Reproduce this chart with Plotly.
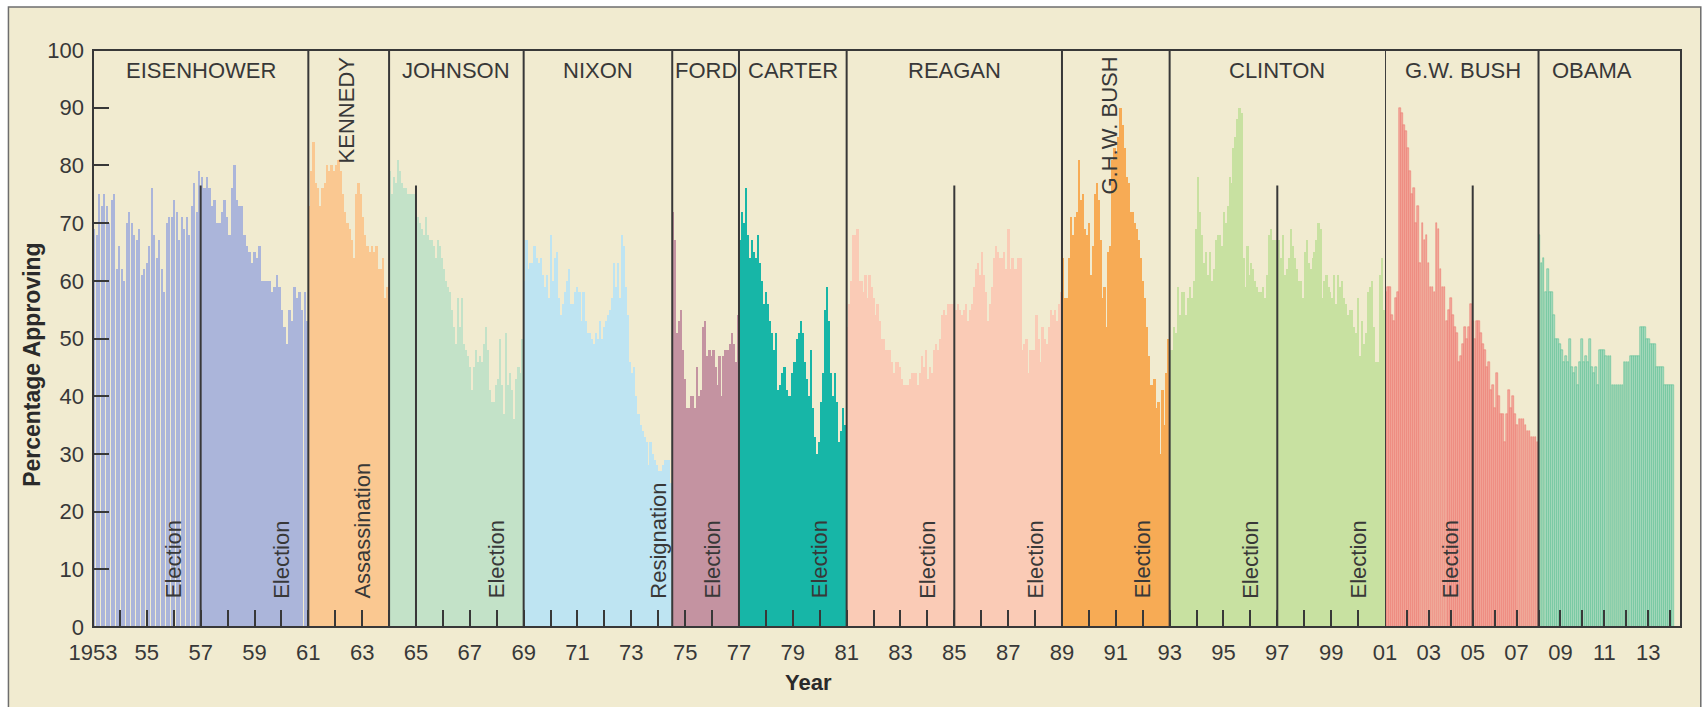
import plotly.graph_objects as go

# ---------------- data ----------------
presidents = ["EISENHOWER", "KENNEDY", "JOHNSON", "NIXON", "FORD", "CARTER",
              "REAGAN", "G.H.W. BUSH", "CLINTON", "G.W. BUSH", "OBAMA"]
# term spans in axis-year units (G.W. Bush and Obama are on the compressed 2001+ axis)
term_start = [1953, 1961, 1964, 1969, 1974.52, 1977, 1981, 1989, 1993, 2001, 2008]
term_end = [1961, 1964, 1969, 1974.52, 1977, 1981, 1989, 1993, 2001, 2008, 2014.18]
on_second_axis = [False] * 9 + [True, True]

eisenhower = [69, 68, 75, 73, 75, 73, 70, 74, 75, 62, 66, 62, 60, 70, 72, 70, 68, 67, 69, 61,
              62, 63, 66, 76, 68, 64, 67, 62, 58, 70, 71, 71, 74, 72, 67, 71, 69, 71, 68, 73,
              77, 72, 79, 78, 76, 78, 76, 73, 74, 70, 70, 72, 74, 71, 68, 76, 80, 74, 73, 73,
              68, 66, 65, 63, 65, 64, 66, 60, 60, 60, 60, 58, 59, 61, 59, 55, 52, 49, 55, 53,
              59, 57, 58, 55, 58, 53]
kennedy = [73, 79, 84, 77, 76, 73, 76, 77, 80, 79, 80, 79, 80, 81, 79, 75, 72, 70, 69, 67,
           64, 75, 77, 75, 71, 68, 66, 65, 66, 65, 66, 62, 62, 64, 57, 59]
johnson = [79, 75, 78, 77, 81, 79, 77, 76, 76, 75, 75, 75, 75, 72, 71, 70, 69, 68, 71, 68,
           67, 67, 66, 64, 67, 66, 64, 62, 60, 59, 58, 55, 52, 49, 57, 52, 57, 49, 48, 47,
           45, 41, 45, 48, 46, 47, 46, 49, 52, 48, 41, 39, 39, 42, 43, 50, 42, 37, 51, 42,
           44, 41, 36, 43, 45, 44, 50]
nixon = [60, 67, 62, 63, 63, 66, 64, 63, 64, 61, 59, 61, 57, 68, 60, 64, 65, 57, 54, 56,
         58, 60, 62, 56, 56, 58, 59, 58, 53, 58, 53, 51, 51, 50, 49, 51, 50, 53, 50, 52,
         53, 54, 55, 57, 63, 59, 63, 57, 68, 66, 59, 54, 46, 44, 45, 40, 37, 35, 34, 33,
         32, 28, 32, 30, 29, 28, 27, 27, 28, 29, 29, 29, 25]
ford = [72, 67, 51, 53, 55, 48, 43, 38, 38, 40, 40, 38, 45, 40, 41, 52, 53, 47, 48, 47,
        48, 45, 42, 47, 40, 47, 48, 48, 49, 51, 49, 46, 54]
carter = [67, 72, 70, 76, 68, 64, 67, 65, 64, 68, 63, 60, 56, 58, 56, 53, 51, 48, 51, 41,
          42, 44, 45, 41, 40, 40, 44, 46, 50, 51, 53, 51, 46, 43, 40, 48, 38, 33, 30, 32,
          39, 44, 55, 59, 53, 44, 40, 44, 39, 32, 34, 38, 35]
reagan = [52, 56, 60, 68, 68, 69, 60, 60, 58, 61, 57, 61, 59, 57, 54, 56, 53, 50, 50, 48,
          48, 48, 46, 44, 46, 46, 45, 43, 42, 42, 42, 43, 44, 44, 44, 42, 44, 47, 45, 48,
          43, 45, 44, 48, 49, 48, 50, 54, 55, 54, 56, 56, 56, 56, 55, 56, 55, 54, 55, 56,
          53, 55, 56, 59, 62, 63, 61, 65, 61, 58, 53, 56, 59, 64, 66, 65, 64, 64, 65, 62,
          69, 62, 64, 62, 62, 64, 64, 48, 49, 50, 44, 48, 48, 48, 54, 50, 46, 52, 50, 49,
          52, 55, 54, 55, 53, 56, 58]
ghw_bush = [64, 57, 57, 64, 71, 68, 71, 72, 81, 74, 75, 69, 68, 70, 61, 66, 75, 77, 74, 67,
            57, 59, 52, 65, 66, 81, 83, 82, 85, 90, 87, 83, 78, 77, 72, 72, 70, 69, 67, 64,
            60, 57, 52, 47, 42, 42, 43, 38, 39, 30, 41, 35, 44, 50]
clinton = [48, 48, 52, 51, 59, 54, 58, 58, 54, 57, 59, 57, 60, 69, 78, 72, 68, 63, 65, 61,
           65, 60, 62, 67, 68, 68, 66, 72, 70, 73, 78, 77, 83, 85, 88, 90, 89, 64, 59, 66,
           61, 63, 62, 60, 59, 58, 58, 59, 57, 61, 68, 69, 67, 67, 67, 67, 64, 68, 61, 62,
           64, 69, 66, 64, 62, 60, 60, 57, 65, 67, 63, 62, 64, 65, 67, 70, 69, 57, 60, 61,
           59, 58, 57, 61, 56, 61, 59, 60, 57, 56, 54, 55, 55, 52, 51, 57, 47, 53, 49, 51,
           58, 59, 60, 52, 46, 46, 61, 64, 55]
gw_bush = [58, 59, 59, 54, 53, 57, 58, 90, 89, 87, 86, 83, 79, 75, 76, 70, 73, 63, 70, 67,
           68, 63, 59, 59, 58, 70, 69, 62, 59, 59, 53, 55, 57, 54, 52, 51, 46, 47, 49, 52,
           50, 52, 56, 53, 50, 53, 53, 51, 49, 48, 45, 46, 41, 42, 38, 44, 40, 37, 37, 32,
           37, 41, 38, 40, 37, 35, 36, 36, 36, 35, 34, 34, 33, 33, 33, 32]
obama = [68, 63, 64, 58, 62, 58, 58, 54, 50, 50, 49, 48, 46, 47, 46, 50, 45, 44, 45, 42,
         46, 50, 46, 47, 46, 50, 45, 44, 45, 42, 48, 48, 48, 47, 47, 47, 42, 42, 42, 42,
         42, 42, 46, 46, 46, 47, 47, 47, 47, 47, 52, 52, 52, 50, 50, 49, 49, 49, 45, 45,
         45, 45, 42, 42, 42, 42, 42]
approval = [eisenhower, kennedy, johnson, nixon, ford, carter, reagan, ghw_bush,
            clinton, gw_bush, obama]

# events
election_lines = [1957, 1965, 1985, 1997]          # first axis
election_lines_2 = [2005]                          # compressed axis
event_labels = ["Election", "Election", "Assassination", "Election", "Resignation",
                "Election", "Election", "Election", "Election", "Election",
                "Election", "Election", "Election"]
event_years = [1956, 1960, 1963, 1968, 1974, 1976, 1980, 1984, 1988, 1992, 1996, 2000, 2004]

# ---------------- style ----------------
fill_colors = ["#ABB5DA", "#FAC891", "#C3E2C8", "#BEE4F2", "#C493A1", "#17B6A7",
               "#FACBB6", "#F7AB55", "#C8E1A1", "#F2A99B", "#ADDBBF"]
line_colors = [None] * 9 + ["#EC736B", "#4DBD8E"]
BG = "#F1EBD0"
INK = "#383838"
FONT = "Liberation Sans, Arial, sans-serif"

W, H = 1705, 707
L_PX, R_PX, T_PX, B_PX = 92.6, 1681.5, 50.0, 627.3
SPLIT_PX = 1385.3
D = (SPLIT_PX - L_PX) / (R_PX - L_PX)
X2_END = 2001 + (R_PX - SPLIT_PX) / 21.95

fig = go.Figure()
for name, vals, s, e, second, fc, lc in zip(presidents, approval, term_start, term_end,
                                          on_second_axis, fill_colors, line_colors):
    n = len(vals)
    step = (e - s) / n
    xs = [s + (i + 0.5) * step for i in range(n)]
    marker = dict(color=fc, line=dict(width=0))
    if lc:
        marker["line"] = dict(width=0.5, color=lc)
    fig.add_trace(go.Bar(x=xs, y=vals, width=[step * 0.86] * n, marker=marker,
                         name=name, showlegend=False,
                         xaxis="x2" if second else "x", yaxis="y"))

def px2paper_x(px):
    return (px - L_PX) / (R_PX - L_PX)

def px2paper_y(py):
    return (B_PX - py) / (B_PX - T_PX)

shapes = []
# outer beige panel
shapes.append(dict(type="rect", xref="paper", yref="paper",
                   x0=px2paper_x(8), x1=px2paper_x(1701.3),
                   y0=px2paper_y(730), y1=px2paper_y(7),
                   fillcolor=BG, line=dict(color="#6E6E6E", width=1.5), layer="below"))
# presidency boundaries
for b in [1961, 1964, 1969, 1974.52, 1977, 1981, 1989, 1993]:
    shapes.append(dict(type="line", xref="x", yref="y", x0=b, x1=b, y0=0, y1=100,
                       line=dict(color=INK, width=2), layer="above"))
for b in [2001, 2008]:
    shapes.append(dict(type="line", xref="x2", yref="y", x0=b, x1=b, y0=0, y1=100,
                       line=dict(color=INK, width=2), layer="above"))
# election lines
for b in election_lines:
    shapes.append(dict(type="line", xref="x", yref="y", x0=b, x1=b, y0=0, y1=76.5,
                       line=dict(color=INK, width=2), layer="above"))
for b in election_lines_2:
    shapes.append(dict(type="line", xref="x2", yref="y", x0=b, x1=b, y0=0, y1=76.5,
                       line=dict(color=INK, width=2), layer="above"))
# plot box
shapes.append(dict(type="rect", xref="paper", yref="paper", x0=0, x1=1, y0=0, y1=1,
                   line=dict(color=INK, width=2), fillcolor="rgba(0,0,0,0)", layer="above"))

annotations = []
name_pos = {"EISENHOWER": ("x", 1957.0), "JOHNSON": ("x", 1966.5), "NIXON": ("x", 1971.76),
            "FORD": ("x", 1975.76), "CARTER": ("x", 1979.0), "REAGAN": ("x", 1985.0),
            "CLINTON": ("x", 1997.0), "G.W. BUSH": ("x2", 2004.57), "OBAMA": ("x2", 2010.42)}
for nm, (ax, xv) in name_pos.items():
    annotations.append(dict(text=nm, xref=ax, yref="y", x=xv, y=96.5, showarrow=False,
                            xanchor="center", yanchor="middle",
                            font=dict(family=FONT, size=22, color=INK)))
for nm, xv in [("KENNEDY", 1962.41), ("G.H.W. BUSH", 1990.78)]:
    annotations.append(dict(text=nm, xref="x", yref="y", x=xv, y=99.2, showarrow=False,
                            textangle=-90, xanchor="center", yanchor="top",
                            font=dict(family=FONT, size=22, color=INK)))
for lab, yr in zip(event_labels, event_years):
    ax = "x2" if yr > 2001 else "x"
    annotations.append(dict(text=lab, xref=ax, yref="y", x=yr, y=4.6, showarrow=False,
                            textangle=-90, xanchor="center", yanchor="bottom",
                            font=dict(family=FONT, size=22, color=INK)))
annotations.append(dict(text="<b>Percentage Approving</b>", xref="paper", yref="paper",
                        x=px2paper_x(31.6), y=px2paper_y(365), showarrow=False,
                        textangle=-90, xanchor="center", yanchor="middle",
                        font=dict(family=FONT, size=23, color="#2a2a2a")))
annotations.append(dict(text="<b>Year</b>", xref="paper", yref="paper",
                        x=px2paper_x(808.8), y=px2paper_y(683.3), showarrow=False,
                        xanchor="center", yanchor="middle",
                        font=dict(family=FONT, size=22, color="#2a2a2a")))

years1 = list(range(1953, 2001))
text1 = ["1953" if y == 1953 else (f"{y % 100:02d}" if y % 2 == 1 else "") for y in years1]
years2 = list(range(2001, 2015))
text2 = [f"{y % 100:02d}" if y % 2 == 1 else "" for y in years2]

tickfont = dict(family=FONT, size=22, color=INK)
common_x = dict(ticks="inside", ticklen=17, tickwidth=2, tickcolor=INK, showgrid=False,
                zeroline=False, showline=False, tickmode="array", tickfont=tickfont,
                ticklabelstandoff=10, fixedrange=True)

fig.update_layout(
    width=W, height=H,
    margin=dict(l=L_PX, r=W - R_PX, t=T_PX, b=H - B_PX, pad=0),
    paper_bgcolor="white", plot_bgcolor="rgba(0,0,0,0)",
    bargap=0, showlegend=False,
    xaxis=dict(domain=[0, D], range=[1953, 2001], tickvals=years1, ticktext=text1,
               anchor="y", **common_x),
    xaxis2=dict(domain=[D, 1], range=[2001, X2_END], tickvals=years2, ticktext=text2,
                anchor="y", **common_x),
    yaxis=dict(range=[0, 100], tickvals=list(range(0, 101, 10)), ticks="inside",
               ticklen=16, tickwidth=2, tickcolor=INK, showgrid=False, zeroline=False,
               showline=False, tickfont=tickfont, ticklabelstandoff=8, anchor="x",
               fixedrange=True),
    shapes=shapes, annotations=annotations,
    font=dict(family=FONT, size=22, color=INK),
)

fig.write_html("out.html", config={"displayModeBar": False},
               post_script="document.body.style.margin='0';document.body.style.overflow='hidden';")
